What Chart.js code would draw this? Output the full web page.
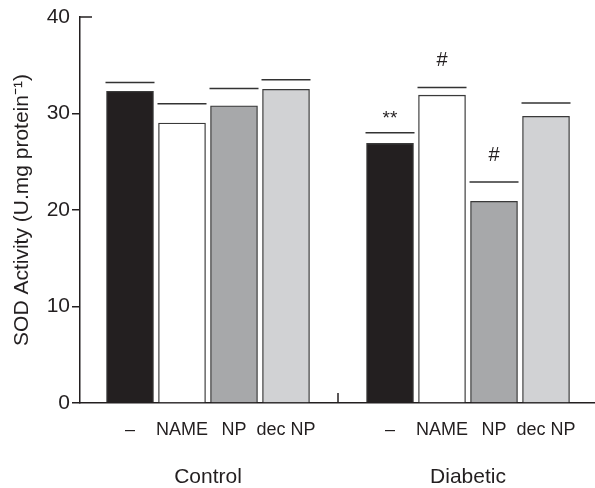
<!DOCTYPE html>
<html>
<head>
<meta charset="utf-8">
<script src="https://cdn.jsdelivr.net/npm/chart.js@4"></script>
<style>
  html, body { margin: 0; padding: 0; background: #fff; }
  #wrap { width: 595px; height: 488px; }
</style>
</head>
<body>
<div id="wrap"><canvas id="chart"></canvas></div>
<script>
// categorias (slot vazio entre os grupos)
var labels = ["\u2013", "NAME", "NP", "dec NP", "", "\u2013", "NAME", "NP", "dec NP"];
var groups = ["Control", "Diabetic"];
var groupPos = [1.5, 6.5];
// valores medios e topo do erro
var values = [32.3, 29.0, 30.8, 32.5, null, 26.9, 31.9, 20.9, 29.7];
var errTop = [33.2, 31.0, 32.6, 33.5, null, 28.0, 32.7, 22.9, 31.1];
var marks = ["", "", "", "", "", "**", "#", "#", ""];
var yTicks = [0, 10, 20, 30, 40];

var fills = ["#231f20", "#ffffff", "#a7a8aa", "#d1d2d4"];
var ink = "#231f20";
var font = "'Liberation Sans', Arial, Helvetica, sans-serif";

var barData = [];
var capData = [];
var barColors = [];
for (var i = 0; i < labels.length; i++) {
    if (values[i] === null) continue;
    barData.push({ x: i, y: values[i] });
    capData.push({ x: i, y: errTop[i] });
    barColors.push(fills[i < 4 ? i : i - 5]);
}

// sem padding automatico nos eixos
function noPad(axis) {
    axis.paddingLeft = 0;
    axis.paddingRight = 0;
    axis.paddingTop = 0;
    axis.paddingBottom = 0;
}

// desenha os simbolos, a marca de separacao e o toco no topo do eixo
var extras = {
    id: "extras",
    afterDraw: function (chart) {
        var ctx = chart.ctx;
        var xs = chart.scales.x, ys = chart.scales.y;
        ctx.save();
        ctx.fillStyle = ink;
        ctx.textAlign = "center";
        ctx.textBaseline = "alphabetic";
        for (var i = 0; i < marks.length; i++) {
            if (!marks[i]) continue;
            var px = xs.getPixelForValue(i);
            var py = ys.getPixelForValue(errTop[i]);
            if (marks[i] === "#") {
                ctx.font = "20px " + font;
                ctx.fillText(marks[i], px, py - 21);
            } else {
                ctx.font = "19px " + font;
                ctx.fillText(marks[i], px, py - 9);
            }
        }
        ctx.strokeStyle = ink;
        ctx.lineWidth = 1.5;
        var sx = xs.getPixelForValue(4);
        ctx.beginPath();
        ctx.moveTo(sx, ys.bottom);
        ctx.lineTo(sx, ys.bottom - 10);
        ctx.stroke();
        var ty = ys.getPixelForValue(40);
        ctx.beginPath();
        ctx.moveTo(xs.left, ty);
        ctx.lineTo(xs.left + 12, ty);
        ctx.stroke();
        ctx.restore();
    }
};

var ctx = document.getElementById("chart").getContext("2d");
var chart = new Chart(ctx, {
    data: {
        datasets: [
            {
                type: "scatter",
                data: capData,
                pointStyle: "line",
                pointRadius: 24.5,
                pointHoverRadius: 24.5,
                borderColor: "#333333",
                borderWidth: 1.5,
                showLine: false,
                order: 0
            },
            {
                type: "bar",
                data: barData,
                backgroundColor: barColors,
                borderColor: "#3a3a3a",
                borderWidth: 1.3,
                barThickness: 47,
                order: 1
            }
        ]
    },
    options: {
        responsive: true,
        maintainAspectRatio: false,
        animation: false,
        layout: { autoPadding: false, padding: { top: 17, right: 0, bottom: 0, left: 0 } },
        plugins: {
            legend: { display: false },
            tooltip: { enabled: false }
        },
        scales: {
            x: {
                type: "linear",
                offset: false,
                min: -0.9615,
                max: 8.942,
                afterBuildTicks: function (axis) {
                    var t = [];
                    for (var i = 0; i < labels.length; i++) {
                        if (labels[i]) t.push({ value: i });
                    }
                    axis.ticks = t;
                },
                afterFit: function (axis) { axis.height = 45; noPad(axis); },
                ticks: {
                    callback: function (v) { return labels[v]; },
                    color: ink,
                    font: { family: font, size: 18 },
                    padding: 16,
                    maxRotation: 0,
                    autoSkip: false
                },
                grid: { display: true, drawOnChartArea: false, drawTicks: false },
                border: { display: true, color: ink, width: 1.5 }
            },
            x2: {
                type: "linear",
                position: "bottom",
                offset: false,
                min: -0.9615,
                max: 8.942,
                afterBuildTicks: function (axis) {
                    axis.ticks = groupPos.map(function (p) { return { value: p }; });
                },
                afterFit: function (axis) { axis.height = 40; noPad(axis); },
                ticks: {
                    callback: function (v) { return groups[groupPos.indexOf(v)]; },
                    color: ink,
                    font: { family: font, size: 21 },
                    padding: 9,
                    maxRotation: 0,
                    autoSkip: false
                },
                grid: { display: false },
                border: { display: false }
            },
            y: {
                min: 0,
                max: 40,
                afterBuildTicks: function (axis) {
                    axis.ticks = yTicks.map(function (v) { return { value: v }; });
                },
                afterFit: function (axis) { axis.width = 80; noPad(axis); },
                ticks: {
                    color: ink,
                    font: { family: font, size: 21 },
                    padding: 2
                },
                grid: {
                    drawOnChartArea: false,
                    tickLength: 8,
                    lineWidth: 1.5,
                    color: function (c) { return c.tick && c.tick.value === 40 ? "rgba(0,0,0,0)" : ink; }
                },
                border: { display: true, color: ink, width: 1.5 },
                title: {
                    display: true,
                    text: "SOD Activity (U.mg protein\u207B\u00B9)",
                    color: ink,
                    font: { family: font, size: 21 },
                    padding: { top: 10, bottom: 4 }
                }
            }
        }
    },
    plugins: [extras]
});
</script>
</body>
</html>
